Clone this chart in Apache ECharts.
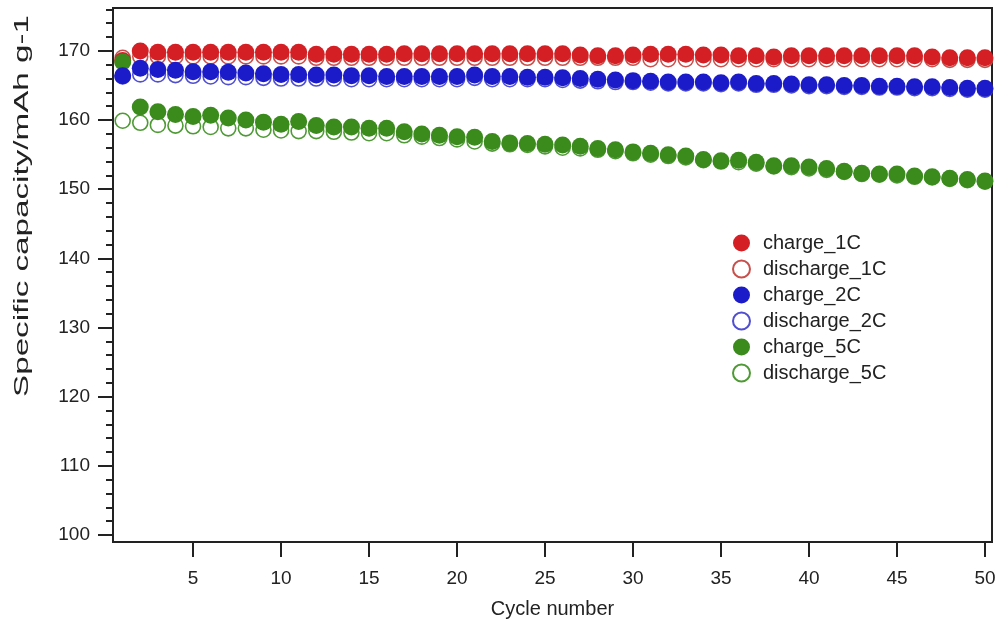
<!DOCTYPE html>
<html>
<head>
<meta charset="utf-8">
<script src="https://cdn.jsdelivr.net/npm/echarts@6/dist/echarts.min.js"></script>
<style>html,body{margin:0;padding:0;background:#fff}#c{width:998px;height:624px}</style>
</head>
<body>
<div id="c"></div>
<script>
const cycles = Array.from({length: 50}, (_, i) => i + 1);

const charge1C = [168.6,170.0,169.8,169.8,169.8,169.8,169.8,169.8,169.8,169.8,
  169.8,169.5,169.5,169.5,169.5,169.5,169.6,169.6,169.6,169.6,
  169.6,169.6,169.6,169.6,169.6,169.6,169.4,169.3,169.3,169.4,
  169.5,169.5,169.5,169.4,169.4,169.3,169.3,169.1,169.3,169.3,
  169.3,169.3,169.3,169.3,169.3,169.3,169.1,169.0,169.0,169.0];
const discharge1C = [169.0,169.2,169.2,169.2,169.2,169.2,169.2,169.2,169.2,169.2,
  169.2,169.0,169.0,169.0,169.0,169.0,169.0,169.0,169.0,169.0,
  169.0,169.0,169.0,169.0,169.0,169.0,169.0,169.0,169.0,169.0,
  168.8,168.8,168.8,168.8,168.8,168.8,168.8,168.8,168.8,168.8,
  168.8,168.8,168.8,168.8,168.8,168.8,168.8,168.7,168.7,168.7];
const charge2C = [166.4,167.5,167.3,167.2,167.0,167.0,166.9,166.8,166.7,166.6,
  166.6,166.5,166.5,166.4,166.4,166.3,166.3,166.3,166.3,166.3,
  166.5,166.3,166.3,166.2,166.2,166.1,166.0,165.9,165.8,165.7,
  165.6,165.5,165.5,165.5,165.4,165.5,165.3,165.3,165.2,165.1,
  165.1,165.0,165.0,164.9,164.9,164.8,164.8,164.7,164.6,164.6];
const discharge2C = [166.3,166.6,166.6,166.5,166.4,166.3,166.2,166.2,166.1,166.0,
  166.0,166.0,166.0,165.9,165.9,165.9,165.9,165.9,165.9,165.9,
  166.1,165.9,165.9,165.9,165.9,165.8,165.7,165.6,165.5,165.5,
  165.4,165.3,165.3,165.3,165.2,165.3,165.1,165.1,165.0,164.9,
  164.9,164.8,164.8,164.7,164.7,164.6,164.6,164.5,164.4,164.4];
const charge5C = [168.4,161.9,161.2,160.8,160.5,160.7,160.3,160.0,159.7,159.4,
  159.8,159.2,159.0,159.0,158.8,158.8,158.3,158.0,157.8,157.6,
  157.5,156.9,156.7,156.6,156.5,156.4,156.2,155.9,155.7,155.4,
  155.2,155.0,154.8,154.3,154.1,154.2,153.9,153.4,153.4,153.2,
  153.0,152.6,152.3,152.2,152.2,151.9,151.8,151.6,151.4,151.2];
const discharge5C = [159.9,159.6,159.3,159.2,159.1,159.0,158.8,158.8,158.6,158.5,
  158.4,158.4,158.3,158.2,158.1,158.1,157.8,157.6,157.4,157.2,
  156.9,156.6,156.5,156.4,156.2,156.0,155.9,155.7,155.5,155.2,
  155.0,154.8,154.6,154.2,154.0,153.9,153.7,153.3,153.2,153.0,
  152.8,152.5,152.2,152.1,152.0,151.8,151.7,151.5,151.3,151.1];

const xTicks = [5,10,15,20,25,30,35,40,45,50];
const yTicks = [100,110,120,130,140,150,160,170];
const yMinorTicks = [100,102,104,106,108,110,112,114,116,118,120,122,124,126,128,130,132,134,136,138,140,142,144,146,148,150,152,154,156,158,160,162,164,166,168,170,172,174,176];

const seriesNames = ['charge_1C','discharge_1C','charge_2C','discharge_2C','charge_5C','discharge_5C'];
const xAxisTitle = 'Cycle number';
const yAxisTitle = 'Specific capacity/mAh g-1';

const FONT = 'Liberation Sans';
const AX = '#222';

function pairs(vals){ return cycles.map((c,i)=>[c, vals[i]]); }

function filled(name, vals, color, z){
  return {name, type:'scatter', data:pairs(vals), symbol:'circle', symbolSize:17, z:z,
    itemStyle:{color:color, opacity:1}, emphasis:{disabled:true}};
}
function hollow(name, vals, color, z){
  return {name, type:'scatter', data:pairs(vals), symbol:'circle', symbolSize:15, z:z,
    itemStyle:{color:'rgba(255,255,255,0)', borderColor:color, borderWidth:1.6, opacity:1}, emphasis:{disabled:true}};
}

const chart = echarts.init(document.getElementById('c'), null, {renderer:'canvas'});
chart.setOption({
  backgroundColor:'#fff',
  animation:false,
  textStyle:{fontFamily:FONT},
  grid:{left:113, right:6, top:8, bottom:82, show:true, borderColor:AX, borderWidth:2, backgroundColor:'transparent',
    containLabel:false, outerBoundsMode:'none'},
  legend:{
    data:seriesNames, orient:'vertical', left:727, top:228,
    itemWidth:17, itemHeight:17, itemGap:6,
    textStyle:{fontSize:20, lineHeight:20, color:'#222', fontFamily:FONT, padding:[0,0,0,8]},
    icon:'circle'
  },
  graphic:[{
    type:'text', x:22, y:206, rotation:Math.PI/2, scaleX:1.66, scaleY:1,
    style:{text:yAxisTitle, fontSize:20, fontFamily:FONT, fill:'#222', textAlign:'center', textVerticalAlign:'middle'}
  }],
  xAxis:{
    type:'value', min:0.45, max:50.4,
    name:xAxisTitle, nameLocation:'middle', nameGap:57,
    nameTextStyle:{fontSize:20, color:'#222', fontFamily:FONT},
    axisLine:{show:true, lineStyle:{color:AX, width:2}},
    axisTick:{show:true, length:15, lineStyle:{color:AX, width:2}, customValues:xTicks},
    axisLabel:{fontSize:19, color:'#222', margin:27, customValues:xTicks, fontFamily:FONT},
    splitLine:{show:false}
  },
  yAxis:[{
    type:'value', min:99, max:176.2, position:'left',
    axisLine:{show:true, lineStyle:{color:AX, width:2}},
    axisTick:{show:true, length:15, lineStyle:{color:AX, width:2}, customValues:yTicks},
    axisLabel:{fontSize:19, color:'#222', margin:23, customValues:yTicks, fontFamily:FONT},
    splitLine:{show:false}
  },{
    type:'value', min:99, max:176.2, position:'left',
    axisLine:{show:false},
    axisTick:{show:true, length:7, lineStyle:{color:AX, width:2}, customValues:yMinorTicks},
    axisLabel:{show:false},
    splitLine:{show:false}
  }],
  series:[
    hollow('discharge_1C', discharge1C, '#c8504c', 2),
    filled('charge_1C', charge1C, '#d41f24', 3),
    hollow('discharge_2C', discharge2C, '#4f4fd0', 4),
    filled('charge_2C', charge2C, '#1b1bc9', 7),
    hollow('discharge_5C', discharge5C, '#4f9a36', 5),
    filled('charge_5C', charge5C, '#3a8a1c', 6)
  ]
});
</script>
</body>
</html>
